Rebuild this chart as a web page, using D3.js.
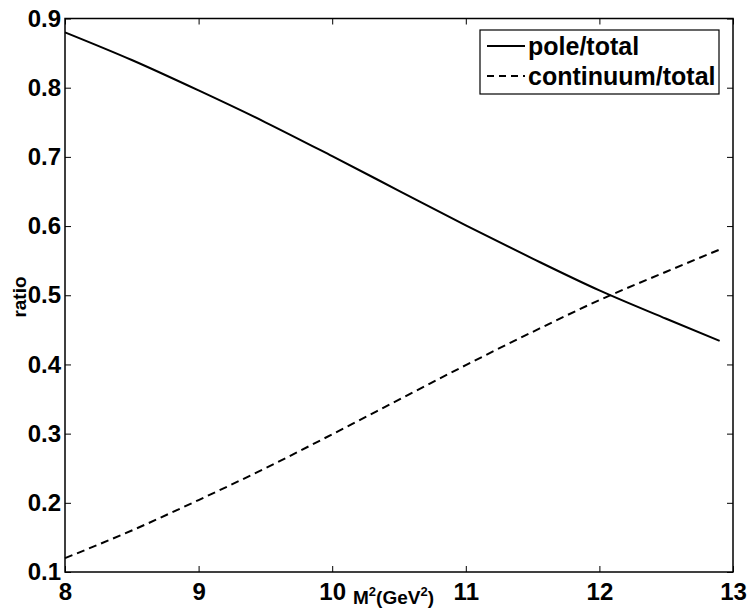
<!DOCTYPE html>
<html>
<head>
<meta charset="utf-8">
<script src="https://d3js.org/d3.v7.min.js"></script>
<style>
  body { margin: 0; background: #fff; }
  text { font-family: "Liberation Sans", Arial, sans-serif; font-weight: bold; fill: #000; }
</style>
</head>
<body>
<div id="chart"></div>
<script>
// data
var m2 = [8.0, 8.5, 9.0, 9.5, 10.0, 10.5, 11.0, 11.5, 12.0, 12.5, 12.9];
var pole = [0.880, 0.840, 0.796, 0.750, 0.701, 0.651, 0.601, 0.553, 0.507, 0.466, 0.434];
var continuum = [0.120, 0.160, 0.204, 0.250, 0.299, 0.349, 0.399, 0.447, 0.493, 0.534, 0.566];
var xTicks = [8, 9, 10, 11, 12, 13];
var yTicks = [0.1, 0.2, 0.3, 0.4, 0.5, 0.6, 0.7, 0.8, 0.9];
var legendLabels = ["pole/total", "continuum/total"];

var W = 749, H = 608;
var margin = { top: 18.5, right: 16, bottom: 36, left: 65 };
var width = W - margin.left - margin.right,
    height = H - margin.top - margin.bottom;

var svg = d3.select("#chart").append("svg")
    .attr("width", W).attr("height", H);
var g = svg.append("g")
    .attr("transform", "translate(" + margin.left + "," + margin.top + ")");

var x = d3.scaleLinear().domain([8, 13]).range([0, width]);
var y = d3.scaleLinear().domain([0.1, 0.9]).range([height, 0]);

// axes with inward ticks on all sides
function styleAxis(sel) {
    sel.select(".domain").remove();
    sel.selectAll(".tick line").attr("stroke", "#000").attr("stroke-width", 1);
    sel.selectAll("text").style("font-size", "24px");
}
g.append("g").attr("transform", "translate(0," + height + ")")
    .call(d3.axisBottom(x).tickValues(xTicks).tickSizeInner(-6).tickSizeOuter(0).tickPadding(11).tickFormat(d3.format("d")))
    .call(styleAxis);
g.append("g")
    .call(d3.axisLeft(y).tickValues(yTicks).tickSizeInner(-6).tickSizeOuter(0).tickPadding(4).tickFormat(d3.format(".1f")))
    .call(styleAxis);
g.append("g")
    .call(d3.axisTop(x).tickValues(xTicks).tickSizeInner(-6).tickSizeOuter(0).tickFormat(""))
    .call(styleAxis);
g.append("g").attr("transform", "translate(" + width + ",0)")
    .call(d3.axisRight(y).tickValues(yTicks).tickSizeInner(-6).tickSizeOuter(0).tickFormat(""))
    .call(styleAxis);

// frame
g.append("rect")
    .attr("width", width).attr("height", height)
    .attr("fill", "none").attr("stroke", "#000").attr("stroke-width", 1.5);

// curves
var line = d3.line()
    .x(function(d) { return x(d[0]); })
    .y(function(d) { return y(d[1]); })
    .curve(d3.curveMonotoneX);

g.append("path")
    .datum(d3.zip(m2, pole))
    .attr("d", line)
    .attr("fill", "none").attr("stroke", "#000").attr("stroke-width", 2);

g.append("path")
    .datum(d3.zip(m2, continuum))
    .attr("d", line)
    .attr("fill", "none").attr("stroke", "#000").attr("stroke-width", 2)
    .attr("stroke-dasharray", "8,5");

// axis labels
svg.append("text")
    .attr("x", 353).attr("y", 604)
    .style("font-size", "19px")
    .html('M<tspan dy="-8" font-size="13px">2</tspan><tspan dy="8">(GeV</tspan><tspan dy="-8" font-size="13px">2</tspan><tspan dy="8">)</tspan>');

svg.append("text")
    .attr("transform", "translate(26,297) rotate(-90)")
    .attr("text-anchor", "middle")
    .style("font-size", "19px")
    .text("ratio");

// legend
var legend = svg.append("g").attr("transform", "translate(480,30)");
legend.append("rect")
    .attr("width", 239).attr("height", 64)
    .attr("fill", "#fff").attr("stroke", "#000").attr("stroke-width", 1.2);
legendLabels.forEach(function(lab, i) {
    var yy = 16 + i * 30;
    legend.append("line")
        .attr("x1", 7).attr("x2", 45).attr("y1", yy).attr("y2", yy)
        .attr("stroke", "#000").attr("stroke-width", 2)
        .attr("stroke-dasharray", i === 1 ? "7,5" : null);
    legend.append("text")
        .attr("x", 48).attr("y", yy + 9)
        .style("font-size", "25px")
        .text(lab);
});
</script>
</body>
</html>
